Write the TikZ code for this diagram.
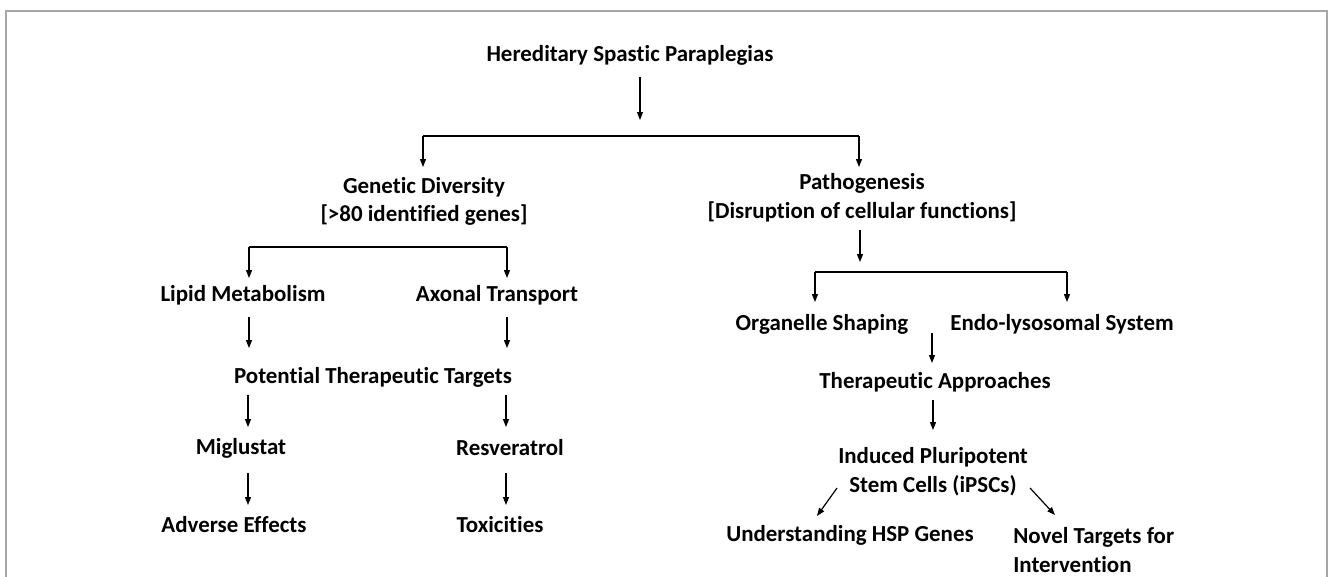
\documentclass[tikz,border=0pt]{standalone}
\usepackage{fontspec}
\setmainfont[Ligatures=NoCommon]{Carlito}
\usetikzlibrary{arrows.meta}
\begin{document}
\begin{tikzpicture}[x=0.75pt,y=-0.75pt,
  lbl/.style={font=\fontsize{17.2}{21.5}\selectfont\bfseries, align=center, inner sep=0pt, text=black},
  arr/.style={-{Triangle[length=6pt,width=4.5pt]}, line width=0.9pt},
  ln/.style={line width=0.9pt}]
\useasboundingbox (0,0) rectangle (1330,576);
\draw[black!35, line width=1.4pt] (6,600) -- (6,11) -- (1327,11) -- (1327,600);

% nodes
\node[lbl] (title) at (630,55) {Hereditary Spastic Paraplegias};
\node[lbl] (gen) at (424,201.5) {Genetic Diversity\\{[}>80 identified genes{]}};
\node[lbl] (pat) at (862,197.5) {Pathogenesis\\{[}Disruption of cellular functions{]}};
\node[lbl] (lip) at (243,295) {Lipid Metabolism};
\node[lbl] (axo) at (497,295) {Axonal Transport};
\node[lbl] (ptt) at (373,377) {Potential Therapeutic Targets};
\node[lbl] (mig) at (241,448) {Miglustat};
\node[lbl] (res) at (510,448) {Resveratrol};
\node[lbl] (adv) at (234,525) {Adverse Effects};
\node[lbl] (tox) at (500,525) {Toxicities};
\node[lbl] (org) at (822,324) {Organelle Shaping};
\node[lbl] (endo) at (1062,324) {Endo-lysosomal System};
\node[lbl] (ther) at (935,382) {Therapeutic Approaches};
\node[lbl] (ipsc) at (933,472) {Induced Pluripotent\\Stem Cells (iPSCs)};
\node[lbl] (und) at (850,535) {Understanding HSP Genes};
\node[lbl, align=left, anchor=west] (nov) at (1013,550) {Novel Targets for\\Intervention};

% connector coordinates
\coordinate (t1) at (640,77);   \coordinate (t2) at (640,120);
\coordinate (bl) at (423,136);  \coordinate (br) at (859,136);
\coordinate (blt) at (423,167); \coordinate (brt) at (859,167);
\coordinate (lbl1) at (249,247); \coordinate (lbr1) at (507,247);
\coordinate (lbl2) at (249,278); \coordinate (lbr2) at (507,278);
\coordinate (la1) at (249,317); \coordinate (la2) at (249,348);
\coordinate (ra1) at (507,317); \coordinate (ra2) at (507,348);
\coordinate (la3) at (248,395); \coordinate (la4) at (248,427);
\coordinate (ra3) at (506,395); \coordinate (ra4) at (506,427);
\coordinate (la5) at (248,473); \coordinate (la6) at (248,505);
\coordinate (ra5) at (506,473); \coordinate (ra6) at (506,505);
\coordinate (p1) at (860,230);  \coordinate (p2) at (860,262);
\coordinate (rbl1) at (815,272); \coordinate (rbr1) at (1067,272);
\coordinate (rbl2) at (815,302); \coordinate (rbr2) at (1067,302);
\coordinate (e1) at (932,333);  \coordinate (e2) at (932,363);
\coordinate (h1) at (933,400);  \coordinate (h2) at (933,430);
\coordinate (d1) at (837,488);  \coordinate (d2) at (817,516);
\coordinate (d3) at (1030,488); \coordinate (d4) at (1055,515);

% connectors
\draw[arr] (t1) -- (t2);
\draw[arr] (bl) -- (blt);
\draw[ln] (bl) -- (br);
\draw[arr] (br) -- (brt);
\draw[arr] (lbl1) -- (lbl2);
\draw[ln] (lbl1) -- (lbr1);
\draw[arr] (lbr1) -- (lbr2);
\draw[arr] (la1) -- (la2);
\draw[arr] (ra1) -- (ra2);
\draw[arr] (la3) -- (la4);
\draw[arr] (ra3) -- (ra4);
\draw[arr] (la5) -- (la6);
\draw[arr] (ra5) -- (ra6);
\draw[arr] (p1) -- (p2);
\draw[arr] (rbl1) -- (rbl2);
\draw[ln] (rbl1) -- (rbr1);
\draw[arr] (rbr1) -- (rbr2);
\draw[arr] (e1) -- (e2);
\draw[arr] (h1) -- (h2);
\draw[arr] (d1) -- (d2);
\draw[arr] (d3) -- (d4);
\end{tikzpicture}
\end{document}
